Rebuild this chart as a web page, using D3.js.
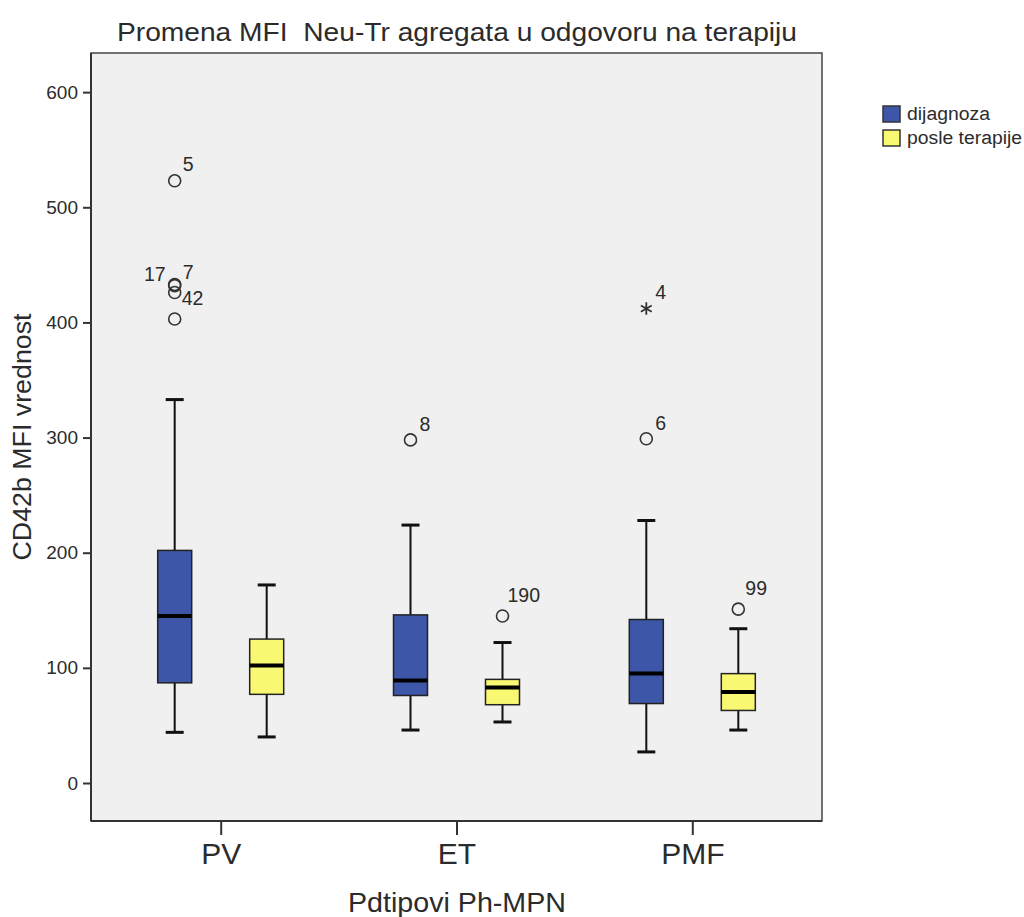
<!DOCTYPE html>
<html>
<head>
<meta charset="utf-8">
<script src="https://cdn.jsdelivr.net/npm/d3@7"></script>
<style>
  body { margin: 0; background: #fff; }
  text { font-family: "Liberation Sans", Arial, sans-serif; fill: #2b2b2b; }
</style>
</head>
<body>
<svg id="chart" width="1024" height="917"></svg>
<script>
// Categories and groups
const categories = ['PV', 'ET', 'PMF'];
const groups     = ['dijagnoza', 'posle terapije'];
const yTicks     = [0, 100, 200, 300, 400, 500, 600];

// Box statistics per category: [low whisker, Q1, median, Q3, high whisker]
const dijagnozaStats = [
    [44, 87, 145, 202, 333],
    [46, 76, 89, 146, 224],
    [27, 69, 95, 142, 228]
];
const posleStats = [
    [40, 77, 102, 125, 172],
    [53, 68, 83, 90, 122],
    [46, 63, 79, 95, 134]
];

// Outliers: category, group, value, case label, marker kind
const outlierCat   = ['PV', 'PV', 'PV', 'PV', 'PV', 'ET', 'ET', 'PMF', 'PMF', 'PMF'];
const outlierGroup = [0, 0, 0, 0, 0, 0, 1, 0, 0, 1];
const outlierVal   = [523, 433, 432, 426, 403, 298, 145, 412, 299, 151];
const outlierId    = ['5', '17', '7', '42', '', '8', '190', '4', '6', '99'];
const outlierKind  = ['o', 'o', 'o', 'o', 'o', 'o', 'o', '*', 'o', 'o'];
// label placement (dx, dy, anchor) for each case number
const labelPlace = [[8, -10, 'start'], [-9, -3, 'end'], [8, -7, 'start'], [7, 13, 'start'], [0, 0, 'start'],
                    [9, -9, 'start'], [5, -14, 'start'], [9, -10, 'start'], [9, -9, 'start'], [7, -14, 'start']];

const colors = {'dijagnoza': '#3d56a8', 'posle terapije': '#f9f873'};

// Plot geometry
const plot = {left: 91, top: 53, right: 822, bottom: 821};

const svg = d3.select('#chart');

const yScale = d3.scaleLinear().domain([-33, 634]).range([plot.bottom, plot.top]);
const xScale = d3.scalePoint().domain(categories).range([plot.left, plot.right]).padding(0.55);
const gScale = d3.scalePoint().domain(groups).range([-46, 46]);
const boxW = 34;

// Plot background
svg.append('rect')
   .attr('x', plot.left).attr('y', plot.top)
   .attr('width', plot.right - plot.left).attr('height', plot.bottom - plot.top)
   .attr('fill', '#f0f0f0').attr('stroke', '#444').attr('stroke-width', 1.5);

// Y axis
const yAxis = d3.axisLeft(yScale).tickValues(yTicks).tickSize(8).tickPadding(5);
const yG = svg.append('g').attr('transform', `translate(${plot.left},0)`).call(yAxis);
yG.select('.domain').remove();
yG.selectAll('line').attr('stroke', '#333').attr('stroke-width', 2);
yG.selectAll('text').style('font-size', '19px').attr('fill', '#2b2b2b');

// X axis
const xAxis = d3.axisBottom(xScale).tickSize(14).tickPadding(8);
const xG = svg.append('g').attr('transform', `translate(0,${plot.bottom})`).call(xAxis);
xG.select('.domain').remove();
xG.selectAll('line').attr('stroke', '#333').attr('stroke-width', 2);
xG.selectAll('text').style('font-size', '30px').attr('fill', '#2b2b2b');

// Left and bottom axis lines, slightly heavier
svg.append('line').attr('x1', plot.left).attr('x2', plot.left)
   .attr('y1', plot.top).attr('y2', plot.bottom).attr('stroke', '#333').attr('stroke-width', 2);
svg.append('line').attr('x1', plot.left).attr('x2', plot.right)
   .attr('y1', plot.bottom).attr('y2', plot.bottom).attr('stroke', '#333').attr('stroke-width', 2);

// Boxes
const boxData = [];
categories.forEach((c, i) => {
    boxData.push({cat: c, grp: groups[0], s: dijagnozaStats[i]});
    boxData.push({cat: c, grp: groups[1], s: posleStats[i]});
});

const boxes = svg.append('g').selectAll('g').data(boxData).enter().append('g')
    .attr('transform', d => `translate(${xScale(d.cat) + gScale(d.grp)},0)`);

boxes.append('line')
    .attr('x1', 0).attr('x2', 0)
    .attr('y1', d => yScale(d.s[0])).attr('y2', d => yScale(d.s[4]))
    .attr('stroke', '#111').attr('stroke-width', 2);

boxes.selectAll('.cap').data(d => [d.s[0], d.s[4]]).enter().append('line')
    .attr('x1', -9).attr('x2', 9)
    .attr('y1', v => yScale(v)).attr('y2', v => yScale(v))
    .attr('stroke', '#111').attr('stroke-width', 3);

boxes.append('rect')
    .attr('x', -boxW / 2).attr('width', boxW)
    .attr('y', d => yScale(d.s[3]))
    .attr('height', d => yScale(d.s[1]) - yScale(d.s[3]))
    .attr('fill', d => colors[d.grp]).attr('stroke', '#222').attr('stroke-width', 1.5);

boxes.append('line')
    .attr('x1', -boxW / 2).attr('x2', boxW / 2)
    .attr('y1', d => yScale(d.s[2])).attr('y2', d => yScale(d.s[2]))
    .attr('stroke', '#000').attr('stroke-width', 4);

// Outliers
const outliers = outlierVal.map((v, i) => ({
    cat: outlierCat[i], grp: groups[outlierGroup[i]], v: v,
    id: outlierId[i], kind: outlierKind[i], place: labelPlace[i]
}));

const og = svg.append('g').selectAll('g').data(outliers).enter().append('g')
    .attr('transform', d => `translate(${xScale(d.cat) + gScale(d.grp)},${yScale(d.v)})`);

og.filter(d => d.kind === 'o').append('circle')
    .attr('r', 6).attr('fill', 'none').attr('stroke', '#333').attr('stroke-width', 1.6);

og.filter(d => d.kind === '*').append('path')
    .attr('d', d3.symbol(d3.symbolAsterisk, 110)())
    .attr('fill', 'none').attr('stroke', '#333').attr('stroke-width', 1.8);

og.append('text')
    .attr('x', d => d.place[0]).attr('y', d => d.place[1])
    .attr('text-anchor', d => d.place[2])
    .style('font-size', '19.5px')
    .text(d => d.id);

// Titles
svg.append('text').attr('x', 457).attr('y', 41).attr('text-anchor', 'middle')
   .style('font-size', '26px').style('white-space', 'pre')
   .attr('textLength', 680).attr('lengthAdjust', 'spacingAndGlyphs')
   .text('Promena MFI  Neu-Tr agregata u odgovoru na terapiju');

svg.append('text').attr('x', 457).attr('y', 912).attr('text-anchor', 'middle')
   .style('font-size', '28px')
   .attr('textLength', 218).attr('lengthAdjust', 'spacingAndGlyphs')
   .text('Pdtipovi Ph-MPN');

svg.append('text').attr('transform', `translate(31,437) rotate(-90)`)
   .attr('text-anchor', 'middle').style('font-size', '26px')
   .attr('textLength', 247).attr('lengthAdjust', 'spacingAndGlyphs')
   .text('CD42b MFI vrednost');

// Legend
const legendWidths = [83, 115];
const legend = svg.append('g').selectAll('g').data(groups).enter().append('g')
    .attr('transform', (d, i) => `translate(883,${106 + i * 24})`);
legend.append('rect').attr('width', 17).attr('height', 16)
    .attr('fill', d => colors[d]).attr('stroke', '#333').attr('stroke-width', 1.5);
legend.append('text').attr('x', 24).attr('y', 14).style('font-size', '18px')
    .attr('textLength', (d, i) => legendWidths[i]).attr('lengthAdjust', 'spacingAndGlyphs')
    .text(d => d);
</script>
</body>
</html>
